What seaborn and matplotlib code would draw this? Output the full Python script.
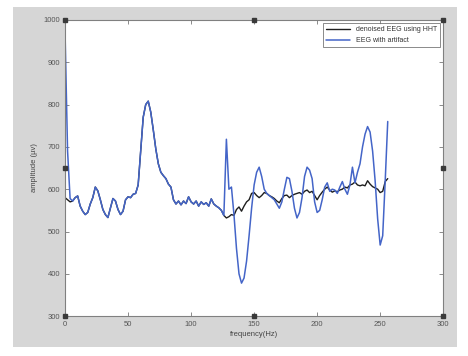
import numpy as np
import pandas as pd
import seaborn as sns
import matplotlib
matplotlib.use("Agg")
import matplotlib.pyplot as plt
from matplotlib.patches import Rectangle

# frequency axis (Hz), one sample every 2 Hz
freq = np.arange(0, 257, 2)

# EEG with artifact (blue)
eeg_artifact = [970, 690, 578, 572, 580, 584, 560, 548, 540, 545,
                565, 580, 605, 596, 575, 552, 540, 533, 555, 578,
                572, 552, 540, 548, 575, 582, 580, 588, 590, 610,
                690, 770, 800, 808, 782, 740, 695, 660, 640, 632,
                625, 612, 605, 575, 565, 572, 563, 572, 566, 582,
                570, 565, 572, 560, 570, 564, 568, 560, 577, 565,
                560, 556, 550, 538, 718, 600, 605, 540, 460, 400,
                378, 390, 430, 490, 555, 610, 640, 652, 630, 600,
                590, 585, 580, 575, 565, 555, 570, 600, 628, 625,
                595, 555, 532, 545, 580, 630, 652, 645, 625, 570,
                545, 550, 575, 605, 615, 595, 600, 598, 590, 605,
                618, 600, 588, 610, 652, 615, 640, 660, 700, 730,
                748, 735, 690, 620, 530, 468, 490, 620, 760]

# denoised EEG (black): start, and the part from 128 Hz where it leaves the blue trace
denoised_start = [580, 575, 570]
denoised_tail = [532, 535, 540, 538, 552, 558, 548, 560, 570, 575,
                 590, 592, 585, 580, 585, 592, 590, 585, 582, 578,
                 572, 568, 578, 585, 586, 580, 585, 588, 590, 592,
                 588, 595, 598, 592, 595, 585, 575, 585, 593, 600,
                 605, 598, 593, 596, 594, 598, 600, 605, 603, 610,
                 612, 617, 610, 608, 610, 608, 620, 612, 606, 603,
                 600, 592, 595, 618, 625]
denoised = denoised_start + eeg_artifact[3:64] + denoised_tail

df = pd.DataFrame({"freq": freq, "artifact": eeg_artifact, "denoised": denoised})

sns.set_style("ticks")
plt.rcParams["font.family"] = ["Liberation Sans", "DejaVu Sans"]

fig = plt.figure(figsize=(4.68, 3.56), dpi=100)
fig.patch.set_facecolor("white")
bg = Rectangle((0.028, 0.025), 0.949, 0.955, transform=fig.transFigure,
               facecolor="#d6d6d6", edgecolor="none", zorder=-10)
fig.add_artist(bg)

ax = fig.add_axes([0.139, 0.112, 0.808, 0.832])
ax.set_facecolor("white")

sns.lineplot(data=df, x="freq", y="denoised", ax=ax, color="#1e1e1e", linewidth=1.0,
             label="denoised EEG using HHT")
sns.lineplot(data=df, x="freq", y="artifact", ax=ax, color="#4465c8", linewidth=1.1,
             label="EEG with artifact")

ax.set_xlim(0, 300)
ax.set_ylim(300, 1000)
ax.set_xticks(range(0, 301, 50))
ax.set_yticks(range(300, 1001, 100))
ax.tick_params(direction="in", length=3, width=0.6, colors="#777777", labelsize=5.5,
               labelcolor="#555555", top=True, right=True)
for s in ax.spines.values():
    s.set_color("#808080")
    s.set_linewidth(0.8)

ax.set_xlabel("frequency(Hz)", fontsize=5.5, color="#444444", labelpad=2)
ax.set_ylabel("amplitude (\u00b5v)", fontsize=5.5, color="#444444", labelpad=4)

# figure-editor selection handles
hx = [0, 150, 300, 0, 300, 0, 150, 300]
hy = [1000, 1000, 1000, 650, 650, 300, 300, 300]
ax.plot(hx, hy, "s", color="#3a3a3a", markersize=2.5, clip_on=False, zorder=5)

leg = ax.legend(loc="upper right", fontsize=5, frameon=True, fancybox=False,
                borderaxespad=0.5, handlelength=3.5, labelspacing=0.6)
leg.get_frame().set_edgecolor("#555555")
leg.get_frame().set_linewidth(0.6)
for t in leg.get_texts():
    t.set_color("#333333")

fig.savefig("out.png", dpi=100)
